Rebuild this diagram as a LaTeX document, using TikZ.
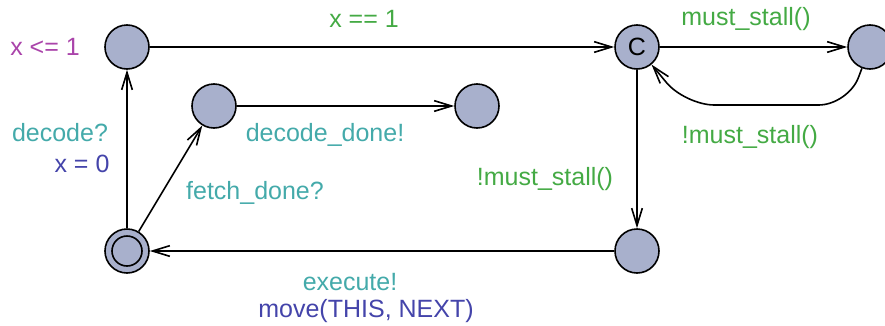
\documentclass[tikz,border=0pt]{standalone}
\usepackage{fontspec}
\setmainfont{Liberation Sans}
\usetikzlibrary{arrows.meta}

\definecolor{locfill}{RGB}{168,176,204}
\definecolor{guardcol}{RGB}{68,170,68}
\definecolor{synccol}{RGB}{68,170,170}
\definecolor{updcol}{RGB}{68,68,170}
\definecolor{invcol}{RGB}{170,68,170}
\newcommand{\lblfont}{\fontsize{18.75pt}{22pt}\selectfont}

\tikzset{
    loc/.style={circle, draw, fill=locfill, line width=1.2pt, minimum size=33pt, inner sep=0pt},
    edge/.style={line width=1.2pt, -{Straight Barb[length=13pt,width=8pt,line width=1.2pt]}},
    guard/.style={text=guardcol, font=\lblfont, inner sep=0pt},
    sync/.style={text=synccol, font=\lblfont, inner sep=0pt},
    upd/.style={text=updcol, font=\lblfont, inner sep=0pt},
    inv/.style={text=invcol, font=\lblfont, inner sep=0pt}
}

\begin{document}
\begin{tikzpicture}[x=0.75pt, y=-0.75pt]
    \useasboundingbox (0,0) rectangle (885,325);

    %locations
    \node[loc] (wait) at (127,47) {};
    \node[loc] (fetched) at (214,106) {};
    \node[loc] (done) at (477,106) {};
    \node[loc, font=\lblfont] (check) at (637,47) {C};
    \node[loc] (stall) at (870,47) {};
    \node[loc] (exec) at (637,251) {};
    \node[loc] (idle) at (127,251) {};
    \draw[line width=1.2pt] (idle) circle [radius=15];

    %edges
    \draw[edge] (idle) -- (wait);
    \draw[edge] (idle) -- (fetched);
    \draw[edge] (fetched) -- (done);
    \draw[edge] (wait) -- (check);
    \draw[edge] (check) -- (stall);
    \coordinate (back1) at (848,105);
    \coordinate (back2) at (685,105);
    \draw[edge, rounded corners=22] (stall) -- (back1) -- (back2) -- (check);
    \draw[edge] (check) -- (exec);
    \draw[edge] (exec) -- (idle);

    %labels
    \node[inv] (invwait) at (45,47) {x <= 1};
    \node[guard] (gtimer) at (364,19) {x == 1};
    \node[guard] (gstall) at (746,19) {must\_stall()};
    \node[guard] (gback) at (750,137) {!must\_stall()};
    \node[guard] (gexec) at (545,179) {!must\_stall()};
    \node[sync] (sdecdone) at (325,135) {decode\_done!};
    \node[sync] (sdecode) at (60,133) {decode?};
    \node[upd] (ureset) at (82,164) {x = 0};
    \node[sync] (sfetch) at (255,193) {fetch\_done?};
    \node[sync] (sexec) at (350,282) {execute!};
    \node[upd] (umove) at (366,311) {move(THIS, NEXT)};
\end{tikzpicture}
\end{document}
